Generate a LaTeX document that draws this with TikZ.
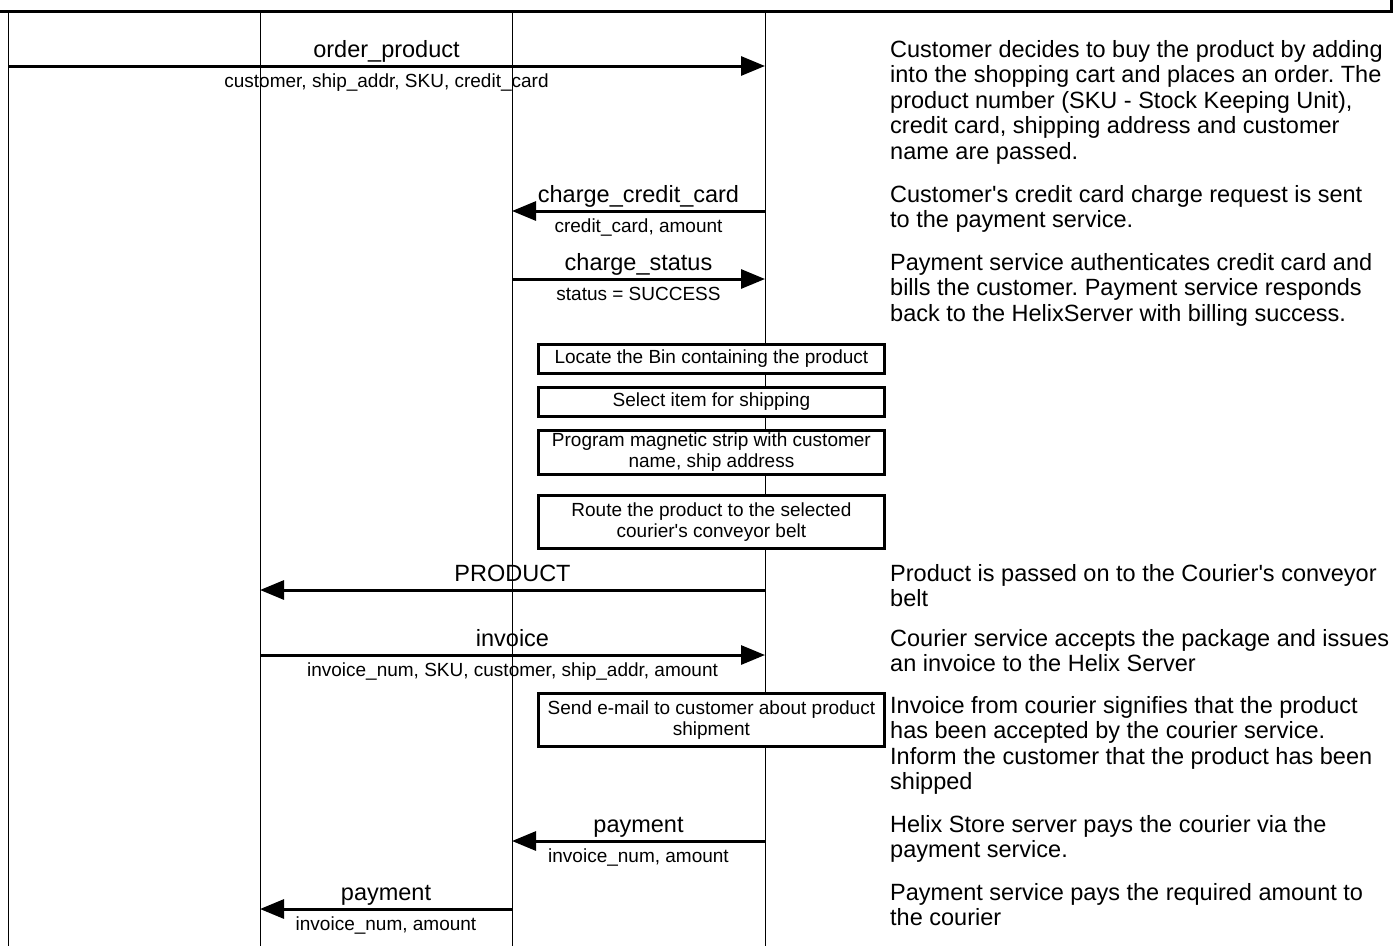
\documentclass[tikz,border=0pt]{standalone}
\usepackage{fontspec}
\setmainfont{Liberation Sans}
\usetikzlibrary{arrows.meta}
\frenchspacing
\newcommand{\apos}{\textquotesingle}
\tikzset{
  lifeline/.style={line width=1pt},
  msg/.style={line width=3pt,-{Triangle[length=24pt,width=19pt]}},
  mlabel/.style={font=\fontsize{23.5}{25.5}\selectfont,anchor=base,inner sep=0pt,yshift=9pt},
  sublabel/.style={font=\fontsize{19}{21}\selectfont,anchor=base,inner sep=0pt,yshift=-21pt},
  actbox/.style={draw,line width=2.8pt,fill=white,font=\fontsize{19}{21}\selectfont,align=center,
    minimum width=346pt,inner sep=0pt,anchor=north west},
  note/.style={font=\fontsize{23.5}{25.5}\selectfont,align=left,anchor=north west,inner sep=0pt,yshift=17.85pt}
}
\begin{document}
\begin{tikzpicture}[x=1pt,y=-1pt]
\useasboundingbox (0,0) rectangle (1397,946);
\clip (0,0) rectangle (1397,946);
% title box (cut off)
\draw[line width=3pt] (-10,-40) rectangle (1391,11);
% lifelines
\foreach \n/\x in {A/8,B/260,C/512,D/765}{
  \coordinate (\n top) at (\x,12);
  \coordinate (\n bot) at (\x,946);
  \draw[lifeline] (\n top) -- (\n bot);
}
% message endpoints
\coordinate (m1s) at (8,66);    \coordinate (m1e) at (765,66);
\coordinate (m2s) at (765,211); \coordinate (m2e) at (512,211);
\coordinate (m3s) at (512,279); \coordinate (m3e) at (765,279);
\coordinate (m4s) at (765,590); \coordinate (m4e) at (260,590);
\coordinate (m5s) at (260,655); \coordinate (m5e) at (765,655);
\coordinate (m6s) at (765,841); \coordinate (m6e) at (512,841);
\coordinate (m7s) at (512,909); \coordinate (m7e) at (260,909);

\draw[msg] (m1s) -- (m1e) node[midway,mlabel] {order\_product} node[midway,sublabel] {customer, ship\_addr, SKU, credit\_card};
\draw[msg] (m2s) -- (m2e) node[midway,mlabel] {charge\_credit\_card} node[midway,sublabel] {credit\_card, amount};
\draw[msg] (m3s) -- (m3e) node[midway,mlabel] {charge\_status} node[midway,sublabel] {status = SUCCESS};
\draw[msg] (m4s) -- (m4e) node[midway,mlabel] {PRODUCT};
\draw[msg] (m5s) -- (m5e) node[midway,mlabel] {invoice} node[midway,sublabel] {invoice\_num, SKU, customer, ship\_addr, amount};
\draw[msg] (m6s) -- (m6e) node[midway,mlabel] {payment} node[midway,sublabel] {invoice\_num, amount};
\draw[msg] (m7s) -- (m7e) node[midway,mlabel] {payment} node[midway,sublabel] {invoice\_num, amount};

% activity boxes
\node[actbox,minimum height=29pt] (b1) at (537,343) {Locate the Bin containing the product};
\node[actbox,minimum height=29pt] (b2) at (537,386) {Select item for shipping};
\node[actbox,minimum height=44pt] (b3) at (537,429) {Program magnetic strip with customer\\name, ship address};
\node[actbox,minimum height=53pt] (b4) at (537,494) {Route the product to the selected\\courier\apos s conveyor belt};
\node[actbox,minimum height=53pt] (b5) at (537,692) {Send e-mail to customer about product\\shipment};

% notes
\node[note] (n1) at (890,57) {\strut Customer decides to buy the product by adding\\into the shopping cart and places an order. The\\product number (SKU - Stock Keeping Unit),\\credit card, shipping address and customer\\name are passed.};
\node[note] (n2) at (890,202) {\strut Customer\apos s credit card charge request is sent\\to the payment service.};
\node[note] (n3) at (890,270) {\strut Payment service authenticates credit card and\\bills the customer. Payment service responds\\back to the HelixServer with billing success.};
\node[note] (n4) at (890,581) {\strut Product is passed on to the Courier\apos s conveyor\\belt};
\node[note] (n5) at (890,646) {\strut Courier service accepts the package and issues\\an invoice to the Helix Server};
\node[note] (n6) at (890,713) {\strut Invoice from courier signifies that the product\\has been accepted by the courier service.\\Inform the customer that the product has been\\shipped};
\node[note] (n7) at (890,832) {\strut Helix Store server pays the courier via the\\payment service.};
\node[note] (n8) at (890,900) {\strut Payment service pays the required amount to\\the courier};
\end{tikzpicture}
\end{document}
